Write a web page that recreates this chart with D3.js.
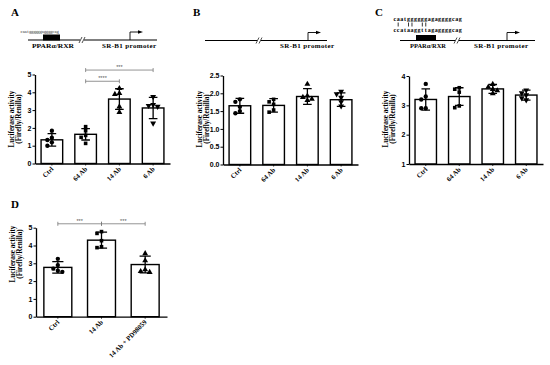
<!DOCTYPE html>
<html>
<head>
<meta charset="utf-8">
<script src="https://cdn.jsdelivr.net/npm/d3@7"></script>
<style>
  body { margin: 0; background: #fff; }
  svg { display: block; }
  .serif { font-family: "Liberation Serif", "Times New Roman", serif; font-weight: bold; }
</style>
</head>
<body>
<svg id="fig" width="550" height="365"></svg>
<script>
// --- data ---
const catsTop = ["Ctrl", "64 Ab", "14 Ab", "6 Ab"];
const catsD = ["Ctrl", "14 Ab", "14 Ab + PD98059"];

const meanA = [1.33, 1.64, 3.62, 3.12];
const sdA = [0.35, 0.32, 0.58, 0.6];
const ptsA = [[1.84, 1.45, 1.32, 1.19, 1.0], [2.07, 1.84, 1.58, 1.47, 1.13], [4.22, 3.94, 3.89, 3.19, 2.88], [3.75, 3.3, 3.25, 3.2, 2.26]];

const meanB = [1.65, 1.66, 1.91, 1.82];
const sdB = [0.21, 0.19, 0.22, 0.19];
const ptsB = [[1.83, 1.76, 1.62, 1.5, 1.44], [1.83, 1.76, 1.69, 1.53, 1.47], [2.26, 1.93, 1.89, 1.84, 1.8], [2.05, 1.98, 1.88, 1.76, 1.64]];

const meanC = [3.2, 3.3, 3.56, 3.35];
const sdC = [0.36, 0.3, 0.15, 0.17];
const ptsC = [[3.73, 3.3, 3.2, 2.9, 2.9], [3.6, 3.55, 3.45, 2.98, 2.92], [3.72, 3.62, 3.55, 3.5, 3.4], [3.52, 3.42, 3.35, 3.25, 3.18]];

const meanD = [2.77, 4.3, 2.93];
const sdD = [0.32, 0.45, 0.47];
const ptsD = [[3.25, 2.9, 2.7, 2.58, 2.52], [4.78, 4.68, 4.27, 3.93, 3.88], [3.55, 3.15, 2.65, 2.55, 2.5]];

const ticksA = [0, 1, 2, 3, 4, 5];
const ticksB = [0, 0.5, 1, 1.5, 2, 2.5];
const ticksC = [1, 2, 3, 4];
const ticksD = [0, 1, 2, 3, 4, 5];

const sigA = [{a: "64 Ab", b: "14 Ab", y: 4.62, t: "****"}, {a: "64 Ab", b: "6 Ab", y: 5.25, t: "***"}];
const sigD = [{a: "Ctrl", b: "14 Ab", y: 5.22, t: "***"}, {a: "14 Ab", b: "14 Ab + PD98059", y: 5.22, t: "***"}];

const seqA = "caatggggggaggggcag";
const seqCwt = "caatggggggagaggggcag";
const seqCmut = "ccataaggttagaggggcag";

const svg = d3.select("#fig");

const shapes = {
  circle: d3.symbolCircle,
  square: d3.symbolSquare,
  tri: d3.symbolTriangle,
  itri: d3.symbolTriangle
};

function panel(cfg) {
  const g = svg.append("g");
  const x = d3.scaleBand().domain(cfg.cats).range([cfg.x0, cfg.x1])
    .paddingInner(0.36).paddingOuter(0.18);
  const y = d3.scaleLinear().domain(cfg.domain).range([cfg.y0, cfg.y1]);
  const base = cfg.domain[0];

  // bars
  g.selectAll("rect.bar").data(cfg.cats).join("rect")
    .attr("x", d => x(d)).attr("width", x.bandwidth())
    .attr("y", (d, i) => y(cfg.mean[i]))
    .attr("height", (d, i) => y(base) - y(cfg.mean[i]))
    .attr("fill", "#fff").attr("stroke", "#000").attr("stroke-width", 1.4);

  // points, simple swarm so they don't overlap
  cfg.cats.forEach((c, i) => {
    const cx = x(c) + x.bandwidth() / 2;
    const placed = [];
    const vals = cfg.pts[i].slice().sort((a, b) => b - a);
    vals.forEach(v => {
      const py = y(v);
      let off = 0;
      for (const cand of [0, -4.5, 4.5, -9, 9]) {
        if (!placed.some(p => Math.abs(p.off - cand) < 3 && Math.abs(p.py - py) < 4)) { off = cand; break; }
      }
      placed.push({off, py});
      const sh = cfg.shapes[i];
      g.append("path")
        .attr("d", d3.symbol().type(shapes[sh]).size(sh === "square" ? 13 : 15)())
        .attr("transform", `translate(${cx + off},${py}) rotate(${sh === "itri" ? 180 : 0})`)
        .attr("fill", "#000");
    });
  });

  // error bars
  cfg.cats.forEach((c, i) => {
    const cx = x(c) + x.bandwidth() / 2;
    const hi = y(cfg.mean[i] + cfg.sd[i]), lo = y(cfg.mean[i] - cfg.sd[i]);
    const cw = x.bandwidth() * 0.2;
    g.append("path")
      .attr("d", `M${cx},${hi}V${lo}M${cx - cw},${hi}H${cx + cw}M${cx - cw},${lo}H${cx + cw}`)
      .attr("stroke", "#000").attr("stroke-width", 1.3).attr("fill", "none");
  });

  // axes
  const ya = g.append("g").attr("transform", `translate(${cfg.x0},0)`)
    .call(d3.axisLeft(y).tickValues(cfg.ticks).tickSize(2.5).tickSizeOuter(0).tickFormat(cfg.fmt));
  ya.select(".domain").attr("stroke-width", 1.3);
  ya.selectAll(".tick line").attr("stroke-width", 1);
  ya.selectAll(".tick text").attr("x", -3.5)
    .style("font-family", "'Liberation Sans', Arial, sans-serif").style("font-weight", "bold").style("font-size", "7px");

  const xa = g.append("g").attr("transform", `translate(0,${cfg.y0})`)
    .call(d3.axisBottom(x).tickSize(2).tickSizeOuter(0).tickFormat(""));
  xa.select(".domain").attr("stroke-width", 1.3);
  xa.selectAll(".tick line").attr("stroke-width", 0.8);

  cfg.cats.forEach(c => {
    const cx = x(c) + x.bandwidth() / 2 + 2;
    g.append("text").attr("class", "serif")
      .attr("transform", `translate(${cx},${cfg.y0 + 6}) rotate(-45)`)
      .attr("text-anchor", "end").attr("font-size", 6.8).text(c);
  });

  // y label
  const lg = g.append("g").attr("transform", `translate(${cfg.x0 - 18},${cfg.labelY}) rotate(-90)`);
  lg.append("text").attr("class", "serif").attr("text-anchor", "middle").attr("y", -3.5)
    .attr("font-size", 7.2).text("Luciferase activity");
  lg.append("text").attr("class", "serif").attr("text-anchor", "middle").attr("y", 4)
    .attr("font-size", 7.2).text("(Firefly/Renilla)");

  // significance
  (cfg.sig || []).forEach(s => {
    const xa1 = x(s.a) + x.bandwidth() / 2, xb = x(s.b) + x.bandwidth() / 2, yy = y(s.y);
    g.append("path")
      .attr("d", `M${xa1},${yy}H${xb}M${xa1},${yy - 2}V${yy + 2}M${xb},${yy - 2}V${yy + 2}`)
      .attr("stroke", "#777").attr("stroke-width", 0.8).attr("fill", "none");
    g.append("text").attr("x", (xa1 + xb) / 2).attr("y", yy - 1.2).attr("text-anchor", "middle")
      .attr("font-size", 5.5).attr("fill", "#555").attr("font-family", "Liberation Sans").text(s.t);
  });

  // panel letter
  svg.append("text").attr("class", "serif").attr("x", cfg.letter[0]).attr("y", cfg.letter[1])
    .attr("font-size", 11).text(cfg.name);
}

panel({name: "A", letter: [11, 16], cats: catsTop, mean: meanA, sd: sdA, pts: ptsA,
  shapes: ["circle", "square", "tri", "itri"], domain: [0, 5], ticks: ticksA, fmt: d3.format("d"),
  x0: 35, x1: 170, y0: 163.5, y1: 74.5, labelY: 119, sig: sigA});
panel({name: "B", letter: [193, 16], cats: catsTop, mean: meanB, sd: sdB, pts: ptsB,
  shapes: ["circle", "square", "tri", "itri"], domain: [0, 2.5], ticks: ticksB, fmt: d3.format(".1f"),
  x0: 223, x1: 358, y0: 164.5, y1: 75.5, labelY: 119});
panel({name: "C", letter: [375, 16], cats: catsTop, mean: meanC, sd: sdC, pts: ptsC,
  shapes: ["circle", "square", "tri", "itri"], domain: [1, 4], ticks: ticksC, fmt: d3.format("d"),
  x0: 409, x1: 543, y0: 164, y1: 76, labelY: 119});
panel({name: "D", letter: [11, 208], cats: catsD, mean: meanD, sd: sdD, pts: ptsD,
  shapes: ["circle", "square", "tri"], domain: [0, 5], ticks: ticksD, fmt: d3.format("d"),
  x0: 36, x1: 167, y0: 316.7, y1: 227.7, labelY: 254, sig: sigD});

// --- promoter schematics ---
function ln(x1, y1, x2, y2, w) {
  svg.append("line").attr("x1", x1).attr("y1", y1).attr("x2", x2).attr("y2", y2)
    .attr("stroke", "#000").attr("stroke-width", w);
}

function schematic(o) {
  ln(o.x0, o.y, o.brk - 2, o.y, 1.1);
  ln(o.brk + 2, o.y, o.x1, o.y, 1.1);
  ln(o.brk - 3, o.y + 3, o.brk, o.y - 3, 0.7);
  ln(o.brk, o.y + 3, o.brk + 3, o.y - 3, 0.7);
  // transcription start arrow
  ln(o.arrow, o.y, o.arrow, o.y - 8, 0.9);
  ln(o.arrow, o.y - 8, o.arrow + 9, o.y - 8, 0.9);
  svg.append("polygon")
    .attr("points", `${o.arrow + 8},${o.y - 9.8} ${o.arrow + 13},${o.y - 8} ${o.arrow + 8},${o.y - 6.2}`)
    .attr("fill", "#000");
  if (o.box) {
    svg.append("rect").attr("x", o.box[0]).attr("y", o.y - 5.5).attr("width", o.box[1] - o.box[0]).attr("height", 6)
      .attr("fill", "#000");
  }
  svg.append("text").attr("class", "serif").attr("x", o.srX).attr("y", o.y + 7.5)
    .attr("font-size", 7).attr("textLength", 54).attr("lengthAdjust", "spacing").text("SR-B1 promoter");
  if (o.ppar) {
    svg.append("text").attr("class", "serif").attr("x", o.ppar[0]).attr("y", o.y + 7.5)
      .attr("font-size", o.ppar[2]).attr("textLength", o.ppar[1]).attr("lengthAdjust", "spacingAndGlyphs")
      .text("PPARα/RXR");
  }
}

function seq(s, x0, y, adv, fs, weight, fill) {
  s.split("").forEach((ch, i) => {
    svg.append("text").attr("x", x0 + i * adv + adv / 2).attr("y", y)
      .attr("font-family", "Liberation Serif").attr("font-weight", weight).attr("fill", fill)
      .attr("text-anchor", "middle").attr("font-size", fs).text(ch);
  });
}

schematic({x0: 28, x1: 157, y: 40, brk: 82, arrow: 130, box: [43, 60], srX: 102, ppar: [32, 42, 7]});
seq(seqA, 20.5, 33.3, 2.12, 4.6, "normal", "#333");

schematic({x0: 205, x1: 327, y: 40.5, brk: 259, arrow: 308, srX: 280});

schematic({x0: 400, x1: 535, y: 40.5, brk: 457, arrow: 507, box: [416, 436], srX: 474, ppar: [410, 36, 5.5]});
const adv = 3.45, sx0 = 393;
seq(seqCwt, sx0, 20.5, adv, 6, "bold", "#000");
seq(seqCmut, sx0, 31.5, adv, 6, "bold", "#000");
seqCwt.split("").forEach((ch, i) => {
  if (ch !== seqCmut[i]) {
    ln(sx0 + i * adv + adv / 2, 22.5, sx0 + i * adv + adv / 2, 26.5, 0.8);
  }
});
</script>
</body>
</html>
